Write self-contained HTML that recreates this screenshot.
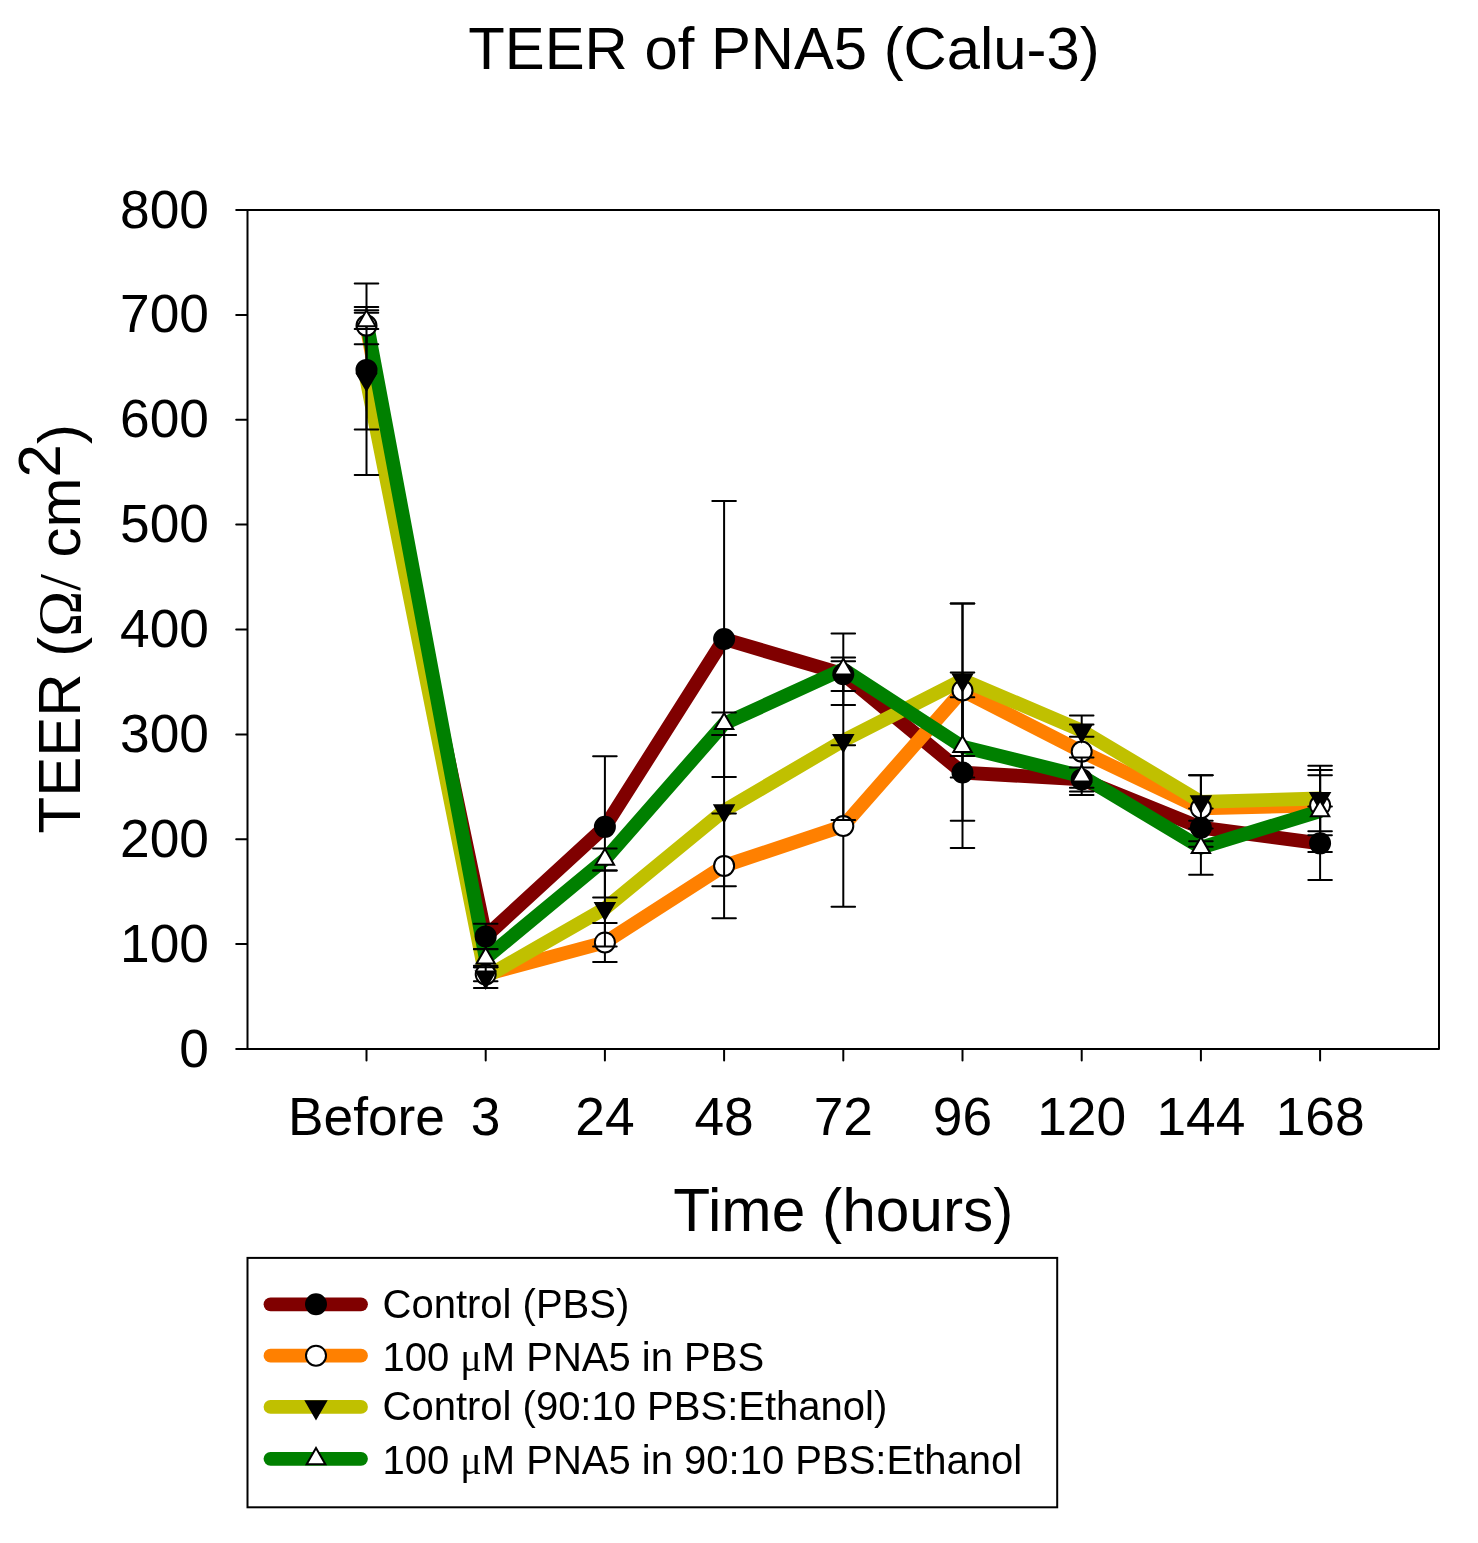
<!DOCTYPE html><html><head><meta charset="utf-8"><title>TEER of PNA5 (Calu-3)</title><style>html,body{margin:0;padding:0;background:#fff;}body{width:1478px;height:1543px;overflow:hidden;}svg{display:block;will-change:transform;}text{font-family:"Liberation Sans",sans-serif;fill:#000;}.ser{font-family:"Liberation Serif",serif;}</style></head><body><svg width="1478" height="1543" viewBox="0 0 1478 1543"><rect width="1478" height="1543" fill="#fff"/><text x="784" y="69.4" font-size="59.8" text-anchor="middle">TEER of PNA5 (Calu-3)</text><polyline points="366.5,369.9 485.7,936.4 604.9,826.85 724.1,639 843.3,674.2 962.5,772.55 1081.7,779.4 1200.9,827.6 1320.1,843.35" fill="none" stroke="#800000" stroke-width="13.8" stroke-linejoin="round" stroke-linecap="round"/><polyline points="366.5,325.6 485.7,974.35 604.9,942.45 724.1,865.9 843.3,826 962.5,690.5 1081.7,751.6 1200.9,808.25 1320.1,805.3" fill="none" stroke="#ff8000" stroke-width="13.8" stroke-linejoin="round" stroke-linecap="round"/><polyline points="366.5,379.3 485.7,976.9 604.9,908.5 724.1,810.65 843.3,740.6 962.5,679.8 1081.7,730.65 1200.9,801.8 1320.1,798.5" fill="none" stroke="#c0c000" stroke-width="13.8" stroke-linejoin="round" stroke-linecap="round"/><polyline points="366.5,320.9 485.7,958.25 604.9,859.45 724.1,723.8 843.3,669.25 962.5,746.7 1081.7,776.2 1200.9,847.65 1320.1,811.05" fill="none" stroke="#008000" stroke-width="13.8" stroke-linejoin="round" stroke-linecap="round"/><g stroke="#000" stroke-width="2" stroke-linecap="round" fill="none"><path d="M366.5 310.3V429.5M354.7 310.3H378.3M354.7 429.5H378.3"/><path d="M485.7 923.7V949.1M473.9 923.7H497.5M473.9 949.1H497.5"/><path d="M604.9 756.3V897.4M593.1 756.3H616.7M593.1 897.4H616.7"/><path d="M724.1 500.9V777.1M712.3 500.9H735.9M712.3 777.1H735.9"/><path d="M843.3 657.5V690.9M831.5 657.5H855.1M831.5 690.9H855.1"/><path d="M962.5 697.2V847.9M950.7 697.2H974.3M950.7 847.9H974.3"/><path d="M1081.7 767.4V791.4M1069.9 767.4H1093.5M1069.9 791.4H1093.5"/><path d="M1200.9 808.4V846.8M1189.1 808.4H1212.7M1189.1 846.8H1212.7"/><path d="M1320.1 806.6V880.1M1308.3 806.6H1331.9M1308.3 880.1H1331.9"/></g><circle cx="366.5" cy="369.9" r="10.0" fill="#000" stroke="#000" stroke-width="2"/><circle cx="485.7" cy="936.4" r="10.0" fill="#000" stroke="#000" stroke-width="2"/><circle cx="604.9" cy="826.85" r="10.0" fill="#000" stroke="#000" stroke-width="2"/><circle cx="724.1" cy="639" r="10.0" fill="#000" stroke="#000" stroke-width="2"/><circle cx="843.3" cy="674.2" r="10.0" fill="#000" stroke="#000" stroke-width="2"/><circle cx="962.5" cy="772.55" r="10.0" fill="#000" stroke="#000" stroke-width="2"/><circle cx="1081.7" cy="779.4" r="10.0" fill="#000" stroke="#000" stroke-width="2"/><circle cx="1200.9" cy="827.6" r="10.0" fill="#000" stroke="#000" stroke-width="2"/><circle cx="1320.1" cy="843.35" r="10.0" fill="#000" stroke="#000" stroke-width="2"/><g stroke="#000" stroke-width="2" stroke-linecap="round" fill="none"><path d="M366.5 306.9V344.3M354.7 306.9H378.3M354.7 344.3H378.3"/><path d="M485.7 967.35V981.35M473.9 967.35H497.5M473.9 981.35H497.5"/><path d="M604.9 923V961.9M593.1 923H616.7M593.1 961.9H616.7"/><path d="M724.1 813.6V918.2M712.3 813.6H735.9M712.3 918.2H735.9"/><path d="M843.3 745.2V906.8M831.5 745.2H855.1M831.5 906.8H855.1"/><path d="M962.5 603.6V777.4M950.7 603.6H974.3M950.7 777.4H974.3"/><path d="M1081.7 715.4V787.8M1069.9 715.4H1093.5M1069.9 787.8H1093.5"/><path d="M1200.9 775.25V841.25M1189.1 775.25H1212.7M1189.1 841.25H1212.7"/><path d="M1320.1 775.3V835.3M1308.3 775.3H1331.9M1308.3 835.3H1331.9"/></g><circle cx="366.5" cy="325.6" r="10.0" fill="#fff" stroke="#000" stroke-width="2"/><circle cx="485.7" cy="974.35" r="10.0" fill="#fff" stroke="#000" stroke-width="2"/><circle cx="604.9" cy="942.45" r="10.0" fill="#fff" stroke="#000" stroke-width="2"/><circle cx="724.1" cy="865.9" r="10.0" fill="#fff" stroke="#000" stroke-width="2"/><circle cx="843.3" cy="826" r="10.0" fill="#fff" stroke="#000" stroke-width="2"/><circle cx="962.5" cy="690.5" r="10.0" fill="#fff" stroke="#000" stroke-width="2"/><circle cx="1081.7" cy="751.6" r="10.0" fill="#fff" stroke="#000" stroke-width="2"/><circle cx="1200.9" cy="808.25" r="10.0" fill="#fff" stroke="#000" stroke-width="2"/><circle cx="1320.1" cy="805.3" r="10.0" fill="#fff" stroke="#000" stroke-width="2"/><g stroke="#000" stroke-width="2" stroke-linecap="round" fill="none"><path d="M366.5 283.6V475M354.7 283.6H378.3M354.7 475H378.3"/><path d="M485.7 965.7V988.1M473.9 965.7H497.5M473.9 988.1H497.5"/><path d="M604.9 870.4V946.6M593.1 870.4H616.7M593.1 946.6H616.7"/><path d="M724.1 735.1V886.2M712.3 735.1H735.9M712.3 886.2H735.9"/><path d="M843.3 661.2V820M831.5 661.2H855.1M831.5 820H855.1"/><path d="M962.5 603.6V756M950.7 603.6H974.3M950.7 756H974.3"/><path d="M1081.7 724.5V736.8M1069.9 724.5H1093.5M1069.9 736.8H1093.5"/><path d="M1200.9 775.2V828.4M1189.1 775.2H1212.7M1189.1 828.4H1212.7"/><path d="M1320.1 765.7V831.3M1308.3 765.7H1331.9M1308.3 831.3H1331.9"/></g><polygon points="366.5,390.3 376.03,373.8 356.97,373.8" fill="#000" stroke="#000" stroke-width="2" stroke-linejoin="miter"/><polygon points="485.7,987.9 495.23,971.4 476.17,971.4" fill="#000" stroke="#000" stroke-width="2" stroke-linejoin="miter"/><polygon points="604.9,919.5 614.43,903 595.37,903" fill="#000" stroke="#000" stroke-width="2" stroke-linejoin="miter"/><polygon points="724.1,821.65 733.63,805.15 714.57,805.15" fill="#000" stroke="#000" stroke-width="2" stroke-linejoin="miter"/><polygon points="843.3,751.6 852.83,735.1 833.77,735.1" fill="#000" stroke="#000" stroke-width="2" stroke-linejoin="miter"/><polygon points="962.5,690.8 972.03,674.3 952.97,674.3" fill="#000" stroke="#000" stroke-width="2" stroke-linejoin="miter"/><polygon points="1081.7,741.65 1091.23,725.15 1072.17,725.15" fill="#000" stroke="#000" stroke-width="2" stroke-linejoin="miter"/><polygon points="1200.9,812.8 1210.43,796.3 1191.37,796.3" fill="#000" stroke="#000" stroke-width="2" stroke-linejoin="miter"/><polygon points="1320.1,809.5 1329.63,793 1310.57,793" fill="#000" stroke="#000" stroke-width="2" stroke-linejoin="miter"/><g stroke="#000" stroke-width="2" stroke-linecap="round" fill="none"><path d="M366.5 312.8V329M354.7 312.8H378.3M354.7 329H378.3"/><path d="M485.7 949.15V967.35M473.9 949.15H497.5M473.9 967.35H497.5"/><path d="M604.9 848.5V870.4M593.1 848.5H616.7M593.1 870.4H616.7"/><path d="M724.1 712.5V735.1M712.3 712.5H735.9M712.3 735.1H735.9"/><path d="M843.3 633.6V704.9M831.5 633.6H855.1M831.5 704.9H855.1"/><path d="M962.5 672.6V820.8M950.7 672.6H974.3M950.7 820.8H974.3"/><path d="M1081.7 757.5V794.9M1069.9 757.5H1093.5M1069.9 794.9H1093.5"/><path d="M1200.9 820.65V874.65M1189.1 820.65H1212.7M1189.1 874.65H1212.7"/><path d="M1320.1 770V852.1M1308.3 770H1331.9M1308.3 852.1H1331.9"/></g><polygon points="366.5,310.3 375.68,326.2 357.32,326.2" fill="#fff" stroke="#000" stroke-width="2" stroke-linejoin="miter"/><polygon points="485.7,947.65 494.88,963.55 476.52,963.55" fill="#fff" stroke="#000" stroke-width="2" stroke-linejoin="miter"/><polygon points="604.9,848.85 614.08,864.75 595.72,864.75" fill="#fff" stroke="#000" stroke-width="2" stroke-linejoin="miter"/><polygon points="724.1,713.2 733.28,729.1 714.92,729.1" fill="#fff" stroke="#000" stroke-width="2" stroke-linejoin="miter"/><polygon points="843.3,658.65 852.48,674.55 834.12,674.55" fill="#fff" stroke="#000" stroke-width="2" stroke-linejoin="miter"/><polygon points="962.5,736.1 971.68,752 953.32,752" fill="#fff" stroke="#000" stroke-width="2" stroke-linejoin="miter"/><polygon points="1081.7,765.6 1090.88,781.5 1072.52,781.5" fill="#fff" stroke="#000" stroke-width="2" stroke-linejoin="miter"/><polygon points="1200.9,837.05 1210.08,852.95 1191.72,852.95" fill="#fff" stroke="#000" stroke-width="2" stroke-linejoin="miter"/><polygon points="1320.1,800.45 1329.28,816.35 1310.92,816.35" fill="#fff" stroke="#000" stroke-width="2" stroke-linejoin="miter"/><path d="M247.5 210H1439V1049H247.5ZM236.2 1049H247.5M236.2 944.12H247.5M236.2 839.25H247.5M236.2 734.38H247.5M236.2 629.5H247.5M236.2 524.62H247.5M236.2 419.75H247.5M236.2 314.88H247.5M236.2 210H247.5M366.5 1049V1060.6M485.7 1049V1060.6M604.9 1049V1060.6M724.1 1049V1060.6M843.3 1049V1060.6M962.5 1049V1060.6M1081.7 1049V1060.6M1200.9 1049V1060.6M1320.1 1049V1060.6" fill="none" stroke="#000" stroke-width="2" stroke-linecap="round" stroke-linejoin="round"/><text x="209" y="1066.5" font-size="53.3" text-anchor="end">0</text><text x="209" y="961.62" font-size="53.3" text-anchor="end">100</text><text x="209" y="856.75" font-size="53.3" text-anchor="end">200</text><text x="209" y="751.88" font-size="53.3" text-anchor="end">300</text><text x="209" y="647" font-size="53.3" text-anchor="end">400</text><text x="209" y="542.12" font-size="53.3" text-anchor="end">500</text><text x="209" y="437.25" font-size="53.3" text-anchor="end">600</text><text x="209" y="332.38" font-size="53.3" text-anchor="end">700</text><text x="209" y="227.5" font-size="53.3" text-anchor="end">800</text><text x="366.5" y="1134.7" font-size="53.3" text-anchor="middle">Before</text><text x="485.7" y="1134.7" font-size="53.3" text-anchor="middle">3</text><text x="604.9" y="1134.7" font-size="53.3" text-anchor="middle">24</text><text x="724.1" y="1134.7" font-size="53.3" text-anchor="middle">48</text><text x="843.3" y="1134.7" font-size="53.3" text-anchor="middle">72</text><text x="962.5" y="1134.7" font-size="53.3" text-anchor="middle">96</text><text x="1081.7" y="1134.7" font-size="53.3" text-anchor="middle">120</text><text x="1200.9" y="1134.7" font-size="53.3" text-anchor="middle">144</text><text x="1320.1" y="1134.7" font-size="53.3" text-anchor="middle">168</text><text x="843.3" y="1230.8" font-size="60.4" text-anchor="middle">Time (hours)</text><text transform="translate(79.9 628.8) rotate(-90)" font-size="60" text-anchor="middle">TEER (<tspan class="ser" font-size="62">&#937;</tspan><tspan class="ser">/</tspan> cm<tspan dy="-20.3">2</tspan><tspan dy="20.3">)</tspan></text><rect x="247.5" y="1257.9" width="809.7" height="249.4" fill="none" stroke="#000" stroke-width="2"/><line x1="270.5" y1="1304.3" x2="361" y2="1304.3" stroke="#800000" stroke-width="13.8" stroke-linecap="round"/><circle cx="316" cy="1304.3" r="10.0" fill="#000" stroke="#000" stroke-width="2"/><text x="382.5" y="1317.6" font-size="40">Control (PBS)</text><line x1="270.5" y1="1355.7" x2="361" y2="1355.7" stroke="#ff8000" stroke-width="13.8" stroke-linecap="round"/><circle cx="316" cy="1355.7" r="10.0" fill="#fff" stroke="#000" stroke-width="2"/><text x="382.5" y="1370.9" font-size="40">100 <tspan class="ser">&#956;</tspan>M PNA5 in PBS</text><line x1="270.5" y1="1406.9" x2="361" y2="1406.9" stroke="#c0c000" stroke-width="13.8" stroke-linecap="round"/><polygon points="316,1418.4 325.96,1401.15 306.04,1401.15" fill="#000" stroke="#000" stroke-width="2" stroke-linejoin="miter"/><text x="382.5" y="1420.4" font-size="40">Control (90:10 PBS:Ethanol)</text><line x1="270.5" y1="1458.8" x2="361" y2="1458.8" stroke="#008000" stroke-width="13.8" stroke-linecap="round"/><polygon points="316,1448 325.35,1464.2 306.65,1464.2" fill="#fff" stroke="#000" stroke-width="2" stroke-linejoin="miter"/><text x="382.5" y="1473.9" font-size="40">100 <tspan class="ser">&#956;</tspan>M PNA5 in 90:10 PBS:Ethanol</text></svg></body></html>
